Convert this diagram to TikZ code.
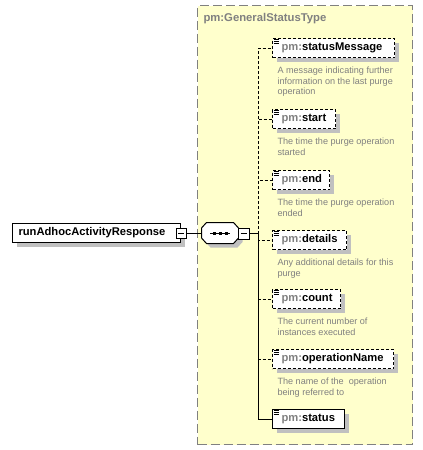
\documentclass[tikz,border=0pt]{standalone}
\usepackage{fontspec}
\setmainfont{Liberation Sans}
\usetikzlibrary{shadows,calc}
\definecolor{bgyellow}{HTML}{FFFFCC}
\definecolor{txtgray}{HTML}{808080}
\definecolor{shgray}{HTML}{C0C0C0}
\begin{document}
\begin{tikzpicture}[x=1pt,y=-1pt,line width=1pt,
  shd/.style={drop shadow={shadow xshift=4pt,shadow yshift=-4pt,fill=shgray,opacity=1}},
  elem/.style={draw=black,fill=white,anchor=north west,minimum height=19pt,inner sep=0pt,
    align=left,font=\fontsize{11.2}{13}\selectfont\bfseries,shd},
  opt/.style={dash pattern=on 3pt off 2pt},
  desc/.style={anchor=north west,inner sep=0pt,align=left,text=txtgray,
    font=\fontsize{9.1}{10.6}\selectfont},
  minusbox/.style={draw=black,fill=white,minimum width=10pt,minimum height=10pt,inner sep=0pt,
    path picture={\draw[line width=1pt] ([xshift=-3pt]path picture bounding box.center) -- ([xshift=3pt]path picture bounding box.center);}},
  conn/.style={draw=black,line width=1pt}]
\useasboundingbox (0,0) rectangle (423,450);
% group container
\node (grp) [draw=txtgray,dash pattern=on 9pt off 4pt,fill=bgyellow,anchor=north west,
  minimum width=215pt,minimum height=439pt,inner sep=0pt] at (197,5) {};
\node (title) [anchor=west,inner sep=0pt,text=txtgray,font=\fontsize{11.3}{13}\selectfont\bfseries]
  at (203,19) {pm:GeneralStatusType};
% root
\node (root) [elem,text width=168pt] at (12,223) {\hspace*{6pt}runAdhocActivityResponse};
\node (rm) [minusbox] at (root.east) {};
% sequence compositor
\node (seq) [minimum width=36pt,minimum height=20pt,inner sep=0pt] at (220,233) {};
\fill[shgray] ($(seq.north west)+(9,4)$) -- ($(seq.north east)+(-1,4)$) -- ($(seq.east)+(4,-1)$) --
  ($(seq.east)+(4,9)$) -- ($(seq.south east)+(-1,4)$) -- ($(seq.south west)+(9,4)$) --
  ($(seq.west)+(4,9)$) -- ($(seq.west)+(4,-1)$) -- cycle;
\draw[fill=white] ($(seq.north west)+(5,0)$) -- ($(seq.north east)+(-5,0)$) -- ($(seq.east)+(0,-5)$) --
  ($(seq.east)+(0,5)$) -- ($(seq.south east)+(-5,0)$) -- ($(seq.south west)+(5,0)$) --
  ($(seq.west)+(0,5)$) -- ($(seq.west)+(0,-5)$) -- cycle;
\draw ($(seq.center)+(-10,0)$) -- ($(seq.center)+(10,0)$);
\foreach \dx in {-6,0,6} \fill ($(seq.center)+(\dx-1.5,-1.5)$) rectangle ($(seq.center)+(\dx+1.5,1.5)$);
\node (sm2) [minusbox,minimum width=11pt,minimum height=11pt] at (243.5,233.5) {};
\coordinate (J) at (258,233.5);
% children
\node (sm) [elem,opt,text width=122pt] at (272,38) {\hspace*{9pt}{\color{txtgray}pm:}statusMessage};
\node (st) [elem,opt,text width=63pt] at (272,109) {\hspace*{9pt}{\color{txtgray}pm:}start};
\node (en) [elem,opt,text width=57pt] at (272,170) {\hspace*{9pt}{\color{txtgray}pm:}end};
\node (de) [elem,opt,text width=74pt] at (272,230) {\hspace*{9pt}{\color{txtgray}pm:}details};
\node (co) [elem,opt,text width=68pt] at (272,289) {\hspace*{9pt}{\color{txtgray}pm:}count};
\node (on) [elem,opt,text width=121pt] at (272,349) {\hspace*{9pt}{\color{txtgray}pm:}operationName};
\node (ss) [elem,text width=72pt] at (272,409) {\hspace*{9pt}{\color{txtgray}pm:}status};
% icons
\foreach \n in {sm,st,en,de,co,on,ss} {
  \fill[white] ($(\n.north west)+(1,0.5)$) rectangle ($(\n.north west)+(7.5,6.5)$);
  \foreach \dy in {1.5,3.5,5.5}
    \draw[line width=0.8pt] ($(\n.north west)+(1.5,\dy)$) -- ($(\n.north west)+(6.5,\dy)$);
}
% descriptions
\node (dsm) [desc] at (277,66.5) {A message indicating further\\information on the last purge\\operation};
\node (dst) [desc] at (277,137.5) {The time the purge operation\\started};
\node (den) [desc] at (277,198.5) {The time the purge operation\\ended};
\node (dde) [desc] at (277,258.5) {Any additional details for this\\purge};
\node (dco) [desc] at (277,317.5) {The current number of\\instances executed};
\node (don) [desc] at (277,377.5) {The name of the\ \ operation\\being referred to};
% connectors
\draw[conn] (rm.east) -- (seq.west);
\draw[conn] (sm2.east) -- (J);
\foreach \n in {sm,st,en,de,co,on} \draw[conn,opt] (J) |- (\n.west);
\draw[conn] (J) |- (ss.west);
\end{tikzpicture}
\end{document}
